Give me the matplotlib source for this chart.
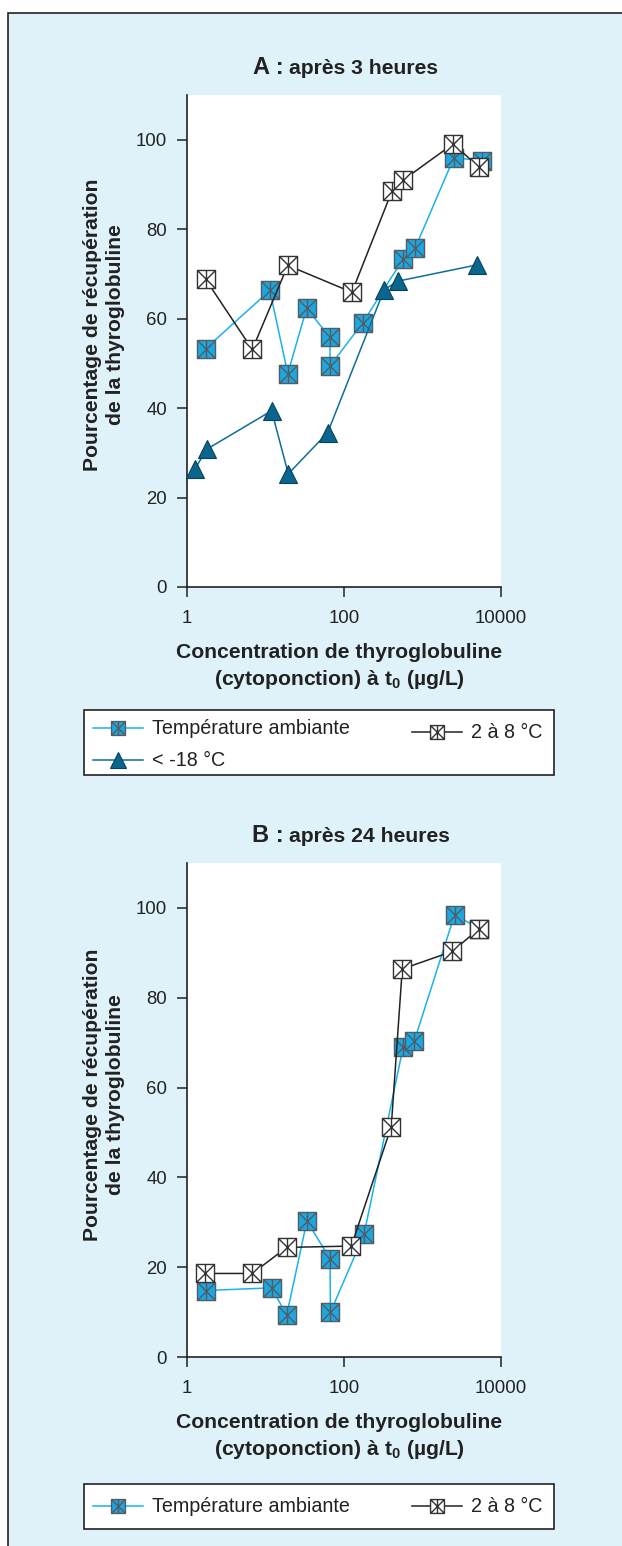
import numpy as np
import matplotlib
matplotlib.use('Agg')
import matplotlib.pyplot as plt
from matplotlib.path import Path
from matplotlib.lines import Line2D
from matplotlib.patches import Rectangle
from matplotlib.ticker import FixedLocator, NullLocator, FuncFormatter

plt.rcParams['font.family'] = ['Liberation Sans', 'DejaVu Sans']
plt.rcParams['mathtext.fontset'] = 'custom'
plt.rcParams['mathtext.rm'] = 'Liberation Sans'
plt.rcParams['mathtext.bf'] = 'Liberation Sans:bold'
plt.rcParams['mathtext.it'] = 'Liberation Sans:italic'

# ---------------- data ----------------
a_amb_x = [1.75, 11.5, 19.4, 33.7, 66.8, 66.8, 175, 571, 811, 2518, 5665]
a_amb_y = [53.3, 66.3, 47.7, 62.3, 55.8, 49.4, 59.1, 73.4, 75.8, 96.0, 95.3]
a_frz_x = [1.28, 1.81, 12.1, 19.7, 62.4, 327, 493, 4900]
a_frz_y = [26.4, 30.8, 39.4, 25.3, 34.5, 66.5, 68.4, 72.0]
a_cold_x = [1.75, 6.87, 19.4, 127, 410, 561, 2470, 5190]
a_cold_y = [68.8, 53.1, 71.9, 65.9, 88.5, 90.9, 99.1, 93.9]

b_amb_x = [1.75, 12.1, 18.8, 34.0, 66.8, 67.8, 181, 571, 788, 2570, 5280]
b_amb_y = [14.8, 15.4, 9.3, 30.3, 21.9, 10.0, 27.3, 69.1, 70.3, 98.5, 95.4]
b_cold_x = [1.72, 6.87, 18.8, 125, 402, 555, 2400, 5280]
b_cold_y = [18.6, 18.6, 24.4, 24.7, 51.3, 86.4, 90.3, 95.4]

x_ticks = [1, 100, 10000]
y_ticks = [0, 20, 40, 60, 80, 100]
series_labels = ["Température ambiante", "< -18 °C", "2 à 8 °C"]
ylabel = "Pourcentage de récupération\nde la thyroglobuline"
xlabel = "Concentration de thyroglobuline\n(cytoponction) à $\\mathbf{t_0}$ (µg/L)"

# ---------------- styles ----------------
W, H = 622, 1546
BLUE_FACE = '#1aa8e2'
BLUE_LINE = '#1ab2ee'
BLUE_EDGE = '#555b60'
DARK_FACE = '#0a668e'
DARK_EDGE = '#06415c'
DARK_LINE = '#0d6e96'
WHITE_EDGE = '#333333'
BLACK_LINE = '#222222'
PANEL = '#dff2fa'
TXT = '#222222'

box_x = Path([(-1, -1), (1, -1), (1, 1), (-1, 1), (-1, -1),
              (-1, -1), (1, 1), (-1, 1), (1, -1), (0, -1), (0, 1)],
             [Path.MOVETO, Path.LINETO, Path.LINETO, Path.LINETO, Path.CLOSEPOLY,
              Path.MOVETO, Path.LINETO, Path.MOVETO, Path.LINETO, Path.MOVETO, Path.LINETO])

amb_style = dict(color=BLUE_LINE, lw=1.1, marker=box_x, ms=13, mfc=BLUE_FACE,
                 mec=BLUE_EDGE, mew=1.0)
frz_style = dict(color=DARK_LINE, lw=1.1, marker='^', ms=13, mfc=DARK_FACE,
                 mec=DARK_EDGE, mew=0.8)
cold_style = dict(color=BLACK_LINE, lw=1.1, marker=box_x, ms=13, mfc='white',
                  mec=WHITE_EDGE, mew=1.0)


def fx(px):
    return px / W


def fy(py):
    return 1 - py / H


fig = plt.figure(figsize=(W / 100, H / 100), dpi=100)
fig.patch.set_facecolor('white')
fig.patches.append(Rectangle((fx(8), -0.01), 1.0, fy(13) + 0.01, transform=fig.transFigure,
                             facecolor=PANEL, edgecolor='#222222', lw=1.2, zorder=-10))


def make_axes(top_px, bottom_px):
    ax = fig.add_axes([fx(186.5), fy(bottom_px), (501 - 186.5) / W, (bottom_px - top_px) / H])
    ax.set_facecolor('white')
    ax.set_xscale('log')
    ax.set_xlim(1, 10000)
    ax.set_ylim(0, 110)
    ax.xaxis.set_major_locator(FixedLocator(x_ticks))
    ax.xaxis.set_minor_locator(NullLocator())
    ax.xaxis.set_major_formatter(FuncFormatter(lambda v, p: f"{int(round(v))}"))
    ax.yaxis.set_major_locator(FixedLocator(y_ticks))
    for s in ['top', 'right']:
        ax.spines[s].set_visible(False)
    for s in ['left', 'bottom']:
        ax.spines[s].set_color('#222222')
        ax.spines[s].set_linewidth(1.2)
    ax.tick_params(axis='both', direction='out', length=7, width=1.1, color='#222222',
                   labelsize=13.4, labelcolor=TXT)
    ax.tick_params(axis='x', pad=9.5)
    ax.tick_params(axis='y', pad=7)
    return ax


def axis_texts(ax_top, ax_bottom, title_letter, title_rest):
    cx = 339
    fig.text(fx(284), fy(ax_top - 21.5), title_letter, ha='right', va='baseline',
             fontsize=17, fontweight='bold', color=TXT)
    fig.text(fx(289), fy(ax_top - 21.5), title_rest, ha='left', va='baseline',
             fontsize=15.2, fontweight='bold', color=TXT)
    fig.text(fx(104), fy(ax_bottom - 262), ylabel, rotation=90, ha='center', va='center',
             ma='center', fontsize=15.2, fontweight='bold', color=TXT, linespacing=1.3)
    fig.text(fx(cx), fy(ax_bottom + 80), xlabel, ha='center', va='center', ma='center',
             fontsize=15.2, fontweight='bold', color=TXT, linespacing=1.3)


def legend_box(top, bottom, rows):
    fig.patches.append(Rectangle((fx(84), fy(bottom)), (554 - 84) / W, (bottom - top) / H,
                                 transform=fig.transFigure, facecolor='white',
                                 edgecolor='#222222', lw=1.2, zorder=5))
    for (x0, x1, y, style, label, ms) in rows:
        fig.add_artist(Line2D([fx(x0), fx(x1)], [fy(y), fy(y)], transform=fig.transFigure,
                              zorder=6, color=style['color'], lw=style['lw']))
        fig.add_artist(Line2D([fx((x0 + x1) / 2)], [fy(y)], transform=fig.transFigure,
                              zorder=7, linestyle='none', marker=style['marker'], ms=ms,
                              mfc=style['mfc'], mec=style['mec'], mew=style['mew']))
        fig.text(fx(x1 + 9), fy(y), label, ha='left', va='center', fontsize=14.2,
                 color=TXT, zorder=8)


# ---------------- panel A ----------------
axA = make_axes(95, 587)
axA.plot(a_amb_x, a_amb_y, clip_on=False, zorder=3, **amb_style)
axA.plot(a_frz_x, a_frz_y, clip_on=False, zorder=4, **frz_style)
axA.plot(a_cold_x, a_cold_y, clip_on=False, zorder=5, **cold_style)
axis_texts(95, 587, "A :", "après 3 heures")
legend_box(710, 775, [
    (93, 143, 728, amb_style, series_labels[0], 10),
    (93, 143, 760, frz_style, series_labels[1], 11),
    (412, 462, 732, cold_style, series_labels[2], 10),
])

# ---------------- panel B ----------------
axB = make_axes(863, 1357)
axB.plot(b_amb_x, b_amb_y, clip_on=False, zorder=3, **amb_style)
axB.plot(b_cold_x, b_cold_y, clip_on=False, zorder=5, **cold_style)
axis_texts(863, 1357, "B :", "après 24 heures")
legend_box(1484, 1529, [
    (93, 143, 1506, amb_style, series_labels[0], 10),
    (412, 462, 1506, cold_style, series_labels[2], 10),
])

fig.savefig('out.png', dpi=100, facecolor='white')
